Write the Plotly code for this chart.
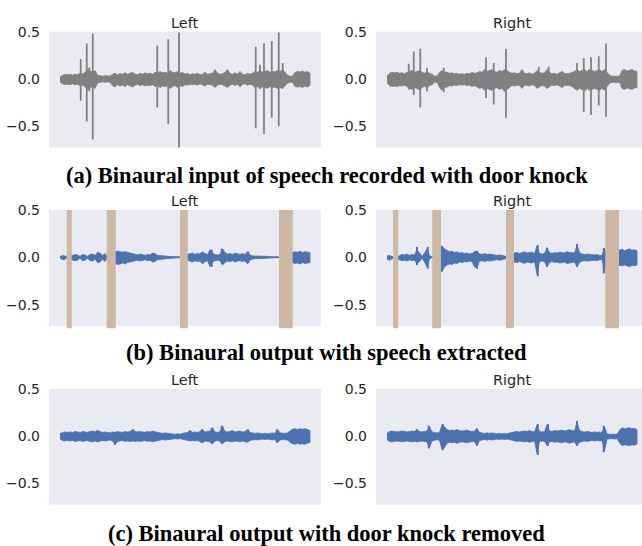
import plotly.graph_objects as go
from plotly.subplots import make_subplots

# ---------------------------------------------------------------------------
# Waveform envelopes, sampled every 0.1 s over a 10 s clip (101 points).
# *_HI = upper envelope, *_LO = lower envelope of the waveform amplitude.
# ---------------------------------------------------------------------------
TIME_STEP_S = 0.1
N_POINTS = 101

# (a) binaural input: speech + door knock
IN_L_HI = [0.02, 0.04, 0.05, 0.045, 0.05, 0.04, 0.05, 0.045, 0.06, 0.055,
           0.07, 0.1, 0.08, 0.07, 0.09, 0.04, 0.035, 0.03, 0.035, 0.03,
           0.03, 0.05, 0.06, 0.045, 0.055, 0.05, 0.065, 0.05, 0.06, 0.07,
           0.05, 0.045, 0.06, 0.05, 0.065, 0.055, 0.06, 0.05, 0.07, 0.06,
           0.08, 0.065, 0.07, 0.06, 0.09, 0.07, 0.065, 0.08, 0.06, 0.07,
           0.05, 0.06, 0.045, 0.055, 0.05, 0.06, 0.045, 0.05, 0.07, 0.05,
           0.055, 0.06, 0.1, 0.06, 0.05, 0.055, 0.07, 0.1, 0.06, 0.05,
           0.065, 0.05, 0.08, 0.05, 0.045, 0.06, 0.05, 0.06, 0.08, 0.07,
           0.09, 0.075, 0.08, 0.09, 0.07, 0.08, 0.075, 0.09, 0.08, 0.1,
           0.07, 0.04, 0.03, 0.03, 0.07, 0.08, 0.075, 0.085, 0.07, 0.08, 0.06]
IN_L_LO = [-0.03, -0.05, -0.06, -0.055, -0.06, -0.05, -0.06, -0.055, -0.07, -0.065,
           -0.08, -0.12, -0.09, -0.08, -0.1, -0.045, -0.035, -0.03, -0.035, -0.03,
           -0.035, -0.07, -0.085, -0.06, -0.075, -0.065, -0.08, -0.06, -0.07, -0.085,
           -0.065, -0.055, -0.07, -0.06, -0.075, -0.065, -0.07, -0.06, -0.08, -0.07,
           -0.09, -0.075, -0.08, -0.07, -0.1, -0.08, -0.07, -0.09, -0.07, -0.08,
           -0.06, -0.065, -0.055, -0.06, -0.055, -0.065, -0.05, -0.06, -0.075, -0.055,
           -0.06, -0.065, -0.09, -0.065, -0.055, -0.06, -0.075, -0.09, -0.065, -0.055,
           -0.07, -0.055, -0.085, -0.055, -0.05, -0.065, -0.055, -0.065, -0.09, -0.08,
           -0.1, -0.085, -0.09, -0.1, -0.08, -0.09, -0.085, -0.1, -0.09, -0.1,
           -0.075, -0.045, -0.035, -0.035, -0.08, -0.085, -0.08, -0.09, -0.075, -0.085, -0.065]
IN_R_HI = [0.03, 0.06, 0.07, 0.065, 0.07, 0.06, 0.065, 0.055, 0.07, 0.08,
           0.09, 0.07, 0.08, 0.09, 0.07, 0.06, 0.08, 0.06, 0.05, 0.03,
           0.03, 0.07, 0.09, 0.075, 0.07, 0.06, 0.065, 0.055, 0.06, 0.05,
           0.055, 0.05, 0.06, 0.055, 0.07, 0.06, 0.065, 0.08, 0.07, 0.1,
           0.08, 0.09, 0.1, 0.08, 0.07, 0.09, 0.08, 0.1, 0.09, 0.07,
           0.06, 0.065, 0.055, 0.06, 0.1, 0.06, 0.055, 0.065, 0.05, 0.06,
           0.09, 0.07, 0.06, 0.065, 0.1, 0.07, 0.055, 0.06, 0.05, 0.065,
           0.08, 0.06, 0.055, 0.06, 0.07, 0.08, 0.1, 0.08, 0.09, 0.1,
           0.08, 0.1, 0.09, 0.08, 0.09, 0.1, 0.08, 0.1, 0.07, 0.04,
           0.03, 0.03, 0.035, 0.03, 0.09, 0.1, 0.085, 0.09, 0.1, 0.085, 0.08]
IN_R_LO = [-0.04, -0.07, -0.08, -0.075, -0.08, -0.07, -0.075, -0.065, -0.08, -0.1,
           -0.11, -0.09, -0.1, -0.12, -0.09, -0.075, -0.1, -0.07, -0.06, -0.035,
           -0.035, -0.09, -0.12, -0.09, -0.085, -0.07, -0.075, -0.065, -0.07, -0.06,
           -0.065, -0.06, -0.07, -0.065, -0.08, -0.07, -0.08, -0.1, -0.09, -0.12,
           -0.1, -0.11, -0.12, -0.1, -0.09, -0.11, -0.1, -0.13, -0.11, -0.09,
           -0.07, -0.075, -0.065, -0.07, -0.1, -0.07, -0.065, -0.075, -0.06, -0.07,
           -0.1, -0.08, -0.07, -0.075, -0.1, -0.08, -0.065, -0.07, -0.06, -0.075,
           -0.09, -0.07, -0.065, -0.07, -0.08, -0.1, -0.12, -0.1, -0.11, -0.13,
           -0.1, -0.12, -0.11, -0.1, -0.11, -0.12, -0.1, -0.12, -0.08, -0.045,
           -0.035, -0.035, -0.04, -0.035, -0.1, -0.11, -0.095, -0.1, -0.11, -0.095, -0.09]

# door-knock transients in the input (time s, peak, trough)
KNOCK_L_T = [0.83, 1.07, 1.17, 1.31, 3.89, 4.33, 4.76, 7.83, 8.0, 8.16, 8.47, 8.75, 8.91]
KNOCK_L_HI = [0.21, 0.375, 0.12, 0.48, 0.35, 0.42, 0.49, 0.34, 0.15, 0.375, 0.40, 0.49, 0.17]
KNOCK_L_LO = [-0.23, -0.45, -0.13, -0.64, -0.30, -0.475, -0.74, -0.52, -0.10, -0.58, -0.41, -0.50, -0.10]
KNOCK_R_T = [0.87, 1.07, 1.33, 1.6, 2.27, 3.96, 4.27, 4.76, 6.07, 6.47, 7.6, 7.87, 8.16, 8.47, 8.76]
KNOCK_R_HI = [0.16, 0.29, 0.32, 0.12, 0.12, 0.23, 0.17, 0.32, 0.13, 0.13, 0.17, 0.22, 0.23, 0.24, 0.375]
KNOCK_R_LO = [-0.11, -0.17, -0.30, -0.13, -0.14, -0.20, -0.27, -0.41, -0.09, -0.09, -0.10, -0.35,
              -0.38, -0.28, -0.40]

# (b) speech extracted
SP_L_HI = [0.005, 0.02, 0.015, 0.0, 0.02, 0.02, 0.03, 0.025, 0.01, 0.03,
           0.025, 0.01, 0.03, 0.035, 0.02, 0.05, 0.045, 0.02, 0.04, 0.0,
           0.0, 0.0, 0.06, 0.065, 0.06, 0.055, 0.06, 0.05, 0.045, 0.04,
           0.03, 0.025, 0.035, 0.03, 0.02, 0.03, 0.025, 0.045, 0.04, 0.02,
           0.02, 0.015, 0.015, 0.01, 0.01, 0.008, 0.005, 0.005, 0.0, 0.0,
           0.0, 0.03, 0.035, 0.045, 0.03, 0.04, 0.035, 0.06, 0.04, 0.03,
           0.08, 0.045, 0.03, 0.025, 0.03, 0.09, 0.05, 0.035, 0.04, 0.03,
           0.045, 0.035, 0.03, 0.04, 0.03, 0.06, 0.025, 0.015, 0.015, 0.01,
           0.015, 0.01, 0.008, 0.01, 0.005, 0.005, 0.005, 0.0, 0.0, 0.0,
           0.0, 0.0, 0.0, 0.05, 0.06, 0.055, 0.065, 0.05, 0.06, 0.055, 0.05]
SP_L_LO = [-0.005, -0.025, -0.02, 0.0, -0.02, -0.025, -0.035, -0.03, -0.01, -0.035,
           -0.03, -0.01, -0.035, -0.04, -0.02, -0.055, -0.05, -0.02, -0.045, 0.0,
           0.0, 0.0, -0.06, -0.075, -0.07, -0.06, -0.07, -0.055, -0.05, -0.045,
           -0.035, -0.03, -0.04, -0.035, -0.025, -0.035, -0.03, -0.05, -0.045, -0.025,
           -0.02, -0.02, -0.015, -0.012, -0.01, -0.01, -0.006, -0.005, 0.0, 0.0,
           0.0, -0.03, -0.04, -0.05, -0.035, -0.045, -0.04, -0.07, -0.045, -0.035,
           -0.1, -0.05, -0.035, -0.03, -0.035, -0.08, -0.055, -0.04, -0.045, -0.035,
           -0.05, -0.04, -0.035, -0.045, -0.035, -0.07, -0.03, -0.018, -0.015, -0.012,
           -0.015, -0.012, -0.01, -0.01, -0.006, -0.005, -0.005, 0.0, 0.0, 0.0,
           0.0, 0.0, 0.0, -0.055, -0.065, -0.06, -0.07, -0.055, -0.065, -0.06, -0.055]
SP_R_HI = [0.015, 0.02, 0.01, 0.0, 0.0, 0.02, 0.03, 0.025, 0.035, 0.02,
           0.03, 0.025, 0.08, 0.04, 0.01, 0.045, 0.09, 0.02, 0.0, 0.0,
           0.0, 0.1, 0.12, 0.09, 0.07, 0.06, 0.065, 0.05, 0.06, 0.045,
           0.05, 0.04, 0.045, 0.035, 0.04, 0.06, 0.065, 0.035, 0.03, 0.04,
           0.03, 0.035, 0.03, 0.025, 0.02, 0.025, 0.02, 0.015, 0.0, 0.0,
           0.04, 0.045, 0.05, 0.04, 0.05, 0.06, 0.045, 0.05, 0.055, 0.04,
           0.12, 0.04, 0.035, 0.04, 0.1, 0.05, 0.04, 0.05, 0.045, 0.055,
           0.05, 0.045, 0.06, 0.05, 0.05, 0.045, 0.13, 0.05, 0.035, 0.03,
           0.035, 0.03, 0.03, 0.025, 0.03, 0.02, 0.02, 0.09, 0.0, 0.0,
           0.0, 0.0, 0.07, 0.08, 0.085, 0.07, 0.08, 0.09, 0.075, 0.08, 0.07]
SP_R_LO = [-0.02, -0.03, -0.015, 0.0, -0.02, -0.025, -0.035, -0.03, -0.04, -0.025,
           -0.035, -0.03, -0.07, -0.045, -0.01, -0.05, -0.1, -0.02, 0.0, 0.0,
           0.0, -0.12, -0.15, -0.1, -0.08, -0.07, -0.075, -0.06, -0.065, -0.05,
           -0.055, -0.045, -0.05, -0.04, -0.045, -0.1, -0.11, -0.04, -0.035, -0.045,
           -0.035, -0.04, -0.035, -0.03, -0.025, -0.03, -0.025, -0.02, 0.0, 0.0,
           -0.045, -0.05, -0.055, -0.045, -0.055, -0.065, -0.05, -0.055, -0.06, -0.045,
           -0.18, -0.045, -0.04, -0.045, -0.1, -0.055, -0.045, -0.055, -0.05, -0.06,
           -0.055, -0.05, -0.065, -0.055, -0.055, -0.05, -0.1, -0.055, -0.04, -0.035,
           -0.04, -0.035, -0.035, -0.03, -0.035, -0.025, -0.025, -0.15, 0.0, 0.0,
           0.0, 0.0, -0.08, -0.085, -0.09, -0.08, -0.09, -0.1, -0.085, -0.09, -0.08]
SP_L_BURST_T = [1.53, 2.28, 6.07, 6.47, 7.53]
SP_L_BURST_HI = [0.05, 0.06, 0.08, 0.09, 0.06]
SP_L_BURST_LO = [-0.05, -0.07, -0.10, -0.07, -0.06]
SP_R_BURST_T = [1.2, 1.63, 2.2, 3.6, 6.03, 6.4, 7.6, 8.67]
SP_R_BURST_HI = [0.11, 0.11, 0.12, 0.07, 0.13, 0.10, 0.14, 0.10]
SP_R_BURST_LO = [-0.08, -0.12, -0.15, -0.12, -0.20, -0.10, -0.10, -0.17]

# detected door-knock segments (start s, end s)
SEG_L = [(0.27, 0.47), (1.87, 2.23), (4.80, 5.11), (8.76, 9.31)]
SEG_R = [(0.24, 0.45), (1.81, 2.16), (4.76, 5.08), (8.73, 9.28)]

# (c) door knock removed
RM_L_HI = [0.025, 0.04, 0.045, 0.04, 0.045, 0.04, 0.05, 0.045, 0.04, 0.05,
           0.045, 0.04, 0.05, 0.055, 0.045, 0.06, 0.05, 0.04, 0.045, 0.04,
           0.035, 0.045, 0.04, 0.05, 0.045, 0.04, 0.05, 0.045, 0.05, 0.07,
           0.05, 0.045, 0.05, 0.045, 0.04, 0.05, 0.045, 0.055, 0.045, 0.04,
           0.035, 0.03, 0.035, 0.03, 0.03, 0.025, 0.02, 0.025, 0.02, 0.03,
           0.035, 0.04, 0.06, 0.04, 0.045, 0.04, 0.05, 0.07, 0.045, 0.05,
           0.055, 0.09, 0.045, 0.04, 0.05, 0.11, 0.05, 0.045, 0.05, 0.06,
           0.045, 0.05, 0.055, 0.045, 0.05, 0.07, 0.04, 0.035, 0.03, 0.035,
           0.03, 0.025, 0.03, 0.025, 0.03, 0.035, 0.03, 0.07, 0.035, 0.03,
           0.03, 0.035, 0.06, 0.075, 0.08, 0.07, 0.08, 0.075, 0.08, 0.07, 0.06]
RM_L_LO = [-0.03, -0.045, -0.05, -0.045, -0.05, -0.045, -0.055, -0.05, -0.045, -0.055,
           -0.05, -0.045, -0.055, -0.06, -0.05, -0.06, -0.055, -0.045, -0.05, -0.045,
           -0.04, -0.05, -0.09, -0.055, -0.05, -0.045, -0.055, -0.05, -0.055, -0.05,
           -0.055, -0.05, -0.055, -0.05, -0.045, -0.055, -0.05, -0.06, -0.05, -0.045,
           -0.04, -0.035, -0.04, -0.035, -0.035, -0.03, -0.025, -0.03, -0.025, -0.035,
           -0.04, -0.045, -0.05, -0.045, -0.05, -0.045, -0.055, -0.07, -0.05, -0.055,
           -0.06, -0.08, -0.05, -0.045, -0.055, -0.08, -0.055, -0.05, -0.055, -0.06,
           -0.05, -0.055, -0.06, -0.05, -0.055, -0.065, -0.045, -0.04, -0.035, -0.04,
           -0.035, -0.03, -0.035, -0.03, -0.035, -0.04, -0.035, -0.07, -0.04, -0.035,
           -0.035, -0.04, -0.065, -0.08, -0.085, -0.075, -0.085, -0.08, -0.085, -0.075, -0.065]
RM_R_HI = [0.03, 0.05, 0.055, 0.05, 0.045, 0.05, 0.055, 0.05, 0.045, 0.05,
           0.055, 0.05, 0.07, 0.05, 0.045, 0.05, 0.055, 0.1, 0.045, 0.04,
           0.035, 0.04, 0.12, 0.1, 0.07, 0.06, 0.065, 0.06, 0.07, 0.06,
           0.055, 0.06, 0.065, 0.055, 0.05, 0.055, 0.08, 0.04, 0.035, 0.03,
           0.035, 0.03, 0.035, 0.03, 0.025, 0.03, 0.025, 0.03, 0.025, 0.035,
           0.04, 0.045, 0.05, 0.045, 0.05, 0.055, 0.05, 0.06, 0.05, 0.045,
           0.12, 0.05, 0.045, 0.05, 0.12, 0.055, 0.05, 0.06, 0.055, 0.06,
           0.065, 0.055, 0.06, 0.07, 0.06, 0.055, 0.15, 0.06, 0.05, 0.045,
           0.05, 0.045, 0.04, 0.045, 0.04, 0.045, 0.04, 0.1, 0.025, 0.02,
           0.02, 0.025, 0.02, 0.06, 0.09, 0.08, 0.085, 0.09, 0.08, 0.085, 0.07]
RM_R_LO = [-0.035, -0.055, -0.06, -0.055, -0.05, -0.055, -0.06, -0.055, -0.05, -0.055,
           -0.06, -0.055, -0.06, -0.055, -0.05, -0.055, -0.06, -0.12, -0.05, -0.045,
           -0.035, -0.045, -0.14, -0.12, -0.075, -0.065, -0.07, -0.065, -0.075, -0.065,
           -0.06, -0.065, -0.07, -0.06, -0.055, -0.06, -0.1, -0.045, -0.04, -0.035,
           -0.04, -0.035, -0.04, -0.035, -0.03, -0.035, -0.03, -0.035, -0.03, -0.04,
           -0.045, -0.05, -0.055, -0.05, -0.055, -0.06, -0.055, -0.065, -0.055, -0.05,
           -0.18, -0.055, -0.05, -0.055, -0.1, -0.06, -0.055, -0.065, -0.06, -0.065,
           -0.07, -0.06, -0.065, -0.075, -0.065, -0.06, -0.1, -0.065, -0.055, -0.05,
           -0.055, -0.05, -0.045, -0.05, -0.045, -0.05, -0.045, -0.15, -0.03, -0.025,
           -0.025, -0.03, -0.025, -0.07, -0.1, -0.09, -0.095, -0.1, -0.09, -0.095, -0.08]
RM_L_BURST_T = [1.5, 2.2, 2.93, 5.2, 5.67, 6.07, 6.47, 7.53, 8.67]
RM_L_BURST_HI = [0.06, 0.04, 0.07, 0.06, 0.07, 0.09, 0.11, 0.07, 0.07]
RM_L_BURST_LO = [-0.06, -0.09, -0.05, -0.05, -0.07, -0.08, -0.08, -0.06, -0.07]
RM_R_BURST_T = [1.2, 1.67, 2.23, 3.6, 6.03, 6.44, 7.6, 8.67]
RM_R_BURST_HI = [0.07, 0.11, 0.13, 0.08, 0.13, 0.13, 0.16, 0.11]
RM_R_BURST_LO = [-0.06, -0.13, -0.15, -0.10, -0.20, -0.10, -0.10, -0.17]

SUBPLOT_TITLES = ["Left", "Right"]
CAPTIONS = [
    "(a) Binaural input of speech recorded with door knock",
    "(b) Binaural output with speech extracted",
    "(c) Binaural output with door knock removed",
]
Y_TICKS = [-0.5, 0.0, 0.5]
Y_TICK_TEXT = ["\u22120.5", "0.0", "0.5"]

# ---------------------------------------------------------------------------
W, H = 642, 546
GRAY = "#808080"
BLUE = "#4C72B0"
BAND = "#CFB8A3"
BG = "#EAEAF2"
TXT = "#262626"

t_grid = [round(i * TIME_STEP_S, 3) for i in range(N_POINTS)]

fig = make_subplots(rows=3, cols=2)


def add_envelope(row, col, hi, lo, color):
    assert len(hi) == N_POINTS and len(lo) == N_POINTS
    fig.add_trace(go.Scatter(
        x=t_grid + t_grid[::-1], y=hi + lo[::-1], mode="lines", fill="toself",
        fillcolor=color, line=dict(color=color, width=0.8), hoverinfo="skip",
        showlegend=False), row=row, col=col)


def add_spikes(row, col, ts, his, los, color, width):
    xs, ys = [], []
    for t, a, b in zip(ts, his, los):
        xs += [t, t, None]
        ys += [a, b, None]
    fig.add_trace(go.Scatter(x=xs, y=ys, mode="lines", line=dict(color=color, width=width),
                             hoverinfo="skip", showlegend=False), row=row, col=col)


# row (a)
add_envelope(1, 1, IN_L_HI, IN_L_LO, GRAY)
add_spikes(1, 1, KNOCK_L_T, KNOCK_L_HI, KNOCK_L_LO, GRAY, 1.8)
add_envelope(1, 2, IN_R_HI, IN_R_LO, GRAY)
add_spikes(1, 2, KNOCK_R_T, KNOCK_R_HI, KNOCK_R_LO, GRAY, 1.8)

# row (b): flat masked signal under the extracted speech
for col in (1, 2):
    fig.add_trace(go.Scatter(x=[t_grid[0], t_grid[-1]], y=[0, 0], mode="lines",
                             line=dict(color="#6E6E7A", width=1.5), hoverinfo="skip",
                             showlegend=False), row=2, col=col)
add_envelope(2, 1, SP_L_HI, SP_L_LO, BLUE)
add_spikes(2, 1, SP_L_BURST_T, SP_L_BURST_HI, SP_L_BURST_LO, BLUE, 2.0)
add_envelope(2, 2, SP_R_HI, SP_R_LO, BLUE)
add_spikes(2, 2, SP_R_BURST_T, SP_R_BURST_HI, SP_R_BURST_LO, BLUE, 2.0)

# row (c)
add_envelope(3, 1, RM_L_HI, RM_L_LO, BLUE)
add_spikes(3, 1, RM_L_BURST_T, RM_L_BURST_HI, RM_L_BURST_LO, BLUE, 2.0)
add_envelope(3, 2, RM_R_HI, RM_R_LO, BLUE)
add_spikes(3, 2, RM_R_BURST_T, RM_R_BURST_HI, RM_R_BURST_LO, BLUE, 2.0)

# panel geometry in pixels
col_px = [(49, 321), (376, 642)]
row_px = [(24, 141.7), (205, 322.7), (386.7, 504)]
x_ranges = [[-0.44, 10.44], [-0.44, 10.2]]
y_range = [-0.725, 0.5]

for r in range(3):
    for c in range(2):
        idx = r * 2 + c + 1
        sfx = "" if idx == 1 else str(idx)
        x0, x1 = col_px[c]
        top, bot = row_px[r]
        fig.layout["xaxis" + sfx].update(
            domain=[x0 / W, x1 / W], range=x_ranges[c], showgrid=False, zeroline=False,
            showticklabels=False, showline=False, ticks="")
        fig.layout["yaxis" + sfx].update(
            domain=[1 - bot / H, 1 - top / H], range=y_range, showgrid=False, zeroline=False,
            showline=False, tickvals=Y_TICKS, ticktext=Y_TICK_TEXT, ticks="",
            ticklabelstandoff=8, tickfont=dict(family="DejaVu Sans", size=14, color=TXT))

# knock segments on row (b)
for c, segs in ((1, SEG_L), (2, SEG_R)):
    xref = "x3" if c == 1 else "x4"
    for a, b in segs:
        fig.add_shape(type="rect", xref=xref, yref="paper", x0=a, x1=b,
                      y0=1 - 325 / H, y1=1 - 205 / H, fillcolor=BAND, line=dict(width=0),
                      layer="above")

# panel titles
title_cx = [185, 512]
for r in range(3):
    for c in range(2):
        fig.add_annotation(text=SUBPLOT_TITLES[c], xref="paper", yref="paper",
                           x=title_cx[c] / W, y=1 - (row_px[r][0] - 9) / H,
                           xanchor="center", yanchor="middle", showarrow=False,
                           font=dict(family="DejaVu Sans", size=14.5, color=TXT))

# captions
cap_y = [170, 350, 533]
for text, y in zip(CAPTIONS, cap_y):
    fig.add_annotation(text="<b>" + text + "</b>", xref="paper", yref="paper",
                       x=326.5 / W, y=1 - y / H, xanchor="center", yanchor="middle",
                       showarrow=False,
                       font=dict(family="Liberation Serif", size=22.5, color="#000000"))

fig.update_layout(width=W, height=H, margin=dict(l=0, r=0, t=0, b=0),
                  paper_bgcolor="white", plot_bgcolor=BG, showlegend=False)

fig.write_html("out.html")
